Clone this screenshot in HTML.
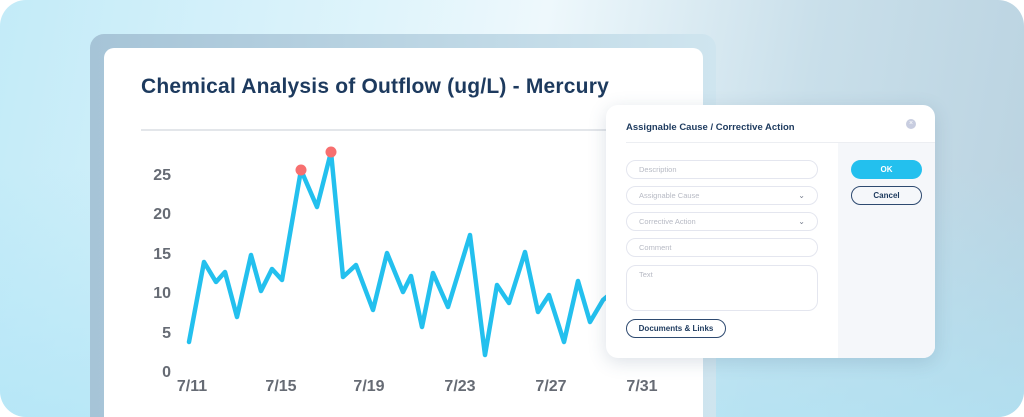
<!DOCTYPE html>
<html style="overflow:hidden;width:1024px;height:417px"><head><meta charset="utf-8"><style>
*{margin:0;padding:0;box-sizing:border-box}
body{width:1024px;height:417px;background:#fff;position:relative;overflow:hidden;font-family:"Liberation Sans",sans-serif}
.bg{position:absolute;left:0;top:0;width:1024px;height:417px;border-radius:26px;overflow:hidden;
background:linear-gradient(100deg,#c3ebf8 0%,#dff4fb 35%,#eef8fc 50%,#c9dfea 75%,#b9d2e0 100%)}
.bg2{position:absolute;left:0;top:0;width:100%;height:100%;background:linear-gradient(180deg,rgba(255,255,255,0) 40%,rgba(175,228,246,.7) 100%)}
.frame{position:absolute;left:90px;top:34px;width:626px;height:383px;border-radius:14px 14px 0 0;background:linear-gradient(90deg,#a6c4d7,#cfe5ef)}
.card{position:absolute;left:104px;top:48px;width:599px;height:369px;border-radius:10px 10px 0 0;background:#fff}
.title{position:absolute;left:141px;top:75px;font-size:21px;font-weight:bold;color:#1d3a5e;letter-spacing:.2px}
.hr{position:absolute;left:141px;top:129px;width:560px;height:2px;background:#e3e6ea}
.dlg{position:absolute;left:606px;top:105px;width:329px;height:253px;border-radius:12px;background:#fff;box-shadow:0 4px 18px rgba(60,90,120,.18);overflow:hidden}
.side{position:absolute;left:232px;top:37px;width:97px;height:216px;background:#f5f7fa}
.dh{position:absolute;left:20px;top:17px;font-size:9.5px;font-weight:bold;color:#1d3a5e}
.dline{position:absolute;left:20px;top:37px;width:309px;height:1px;background:#eceef2}
.x{position:absolute;left:300px;top:14px;width:10px;height:10px;border-radius:50%;background:#c8cde0;color:#fff;font-size:7px;text-align:center;line-height:10px}
.in{position:absolute;left:20px;width:192px;height:19px;border:1px solid #e4e6ef;border-radius:10px;font-size:7.5px;color:#b7bac4;padding-left:12px;line-height:17px}
.in .c{position:absolute;right:12px;top:0;font-size:8px;color:#7a8090}
.btn{position:absolute;height:19px;border-radius:10px;font-size:8px;font-weight:bold;text-align:center;line-height:17px}
</style></head><body>
<div class="bg"><div class="bg2"></div></div>
<div class="frame"></div>
<div class="card"></div>
<div class="title">Chemical Analysis of Outflow (ug/L) - Mercury</div>
<div class="hr"></div>
<svg style="position:absolute;left:0;top:0" width="1024" height="417">
<g font-family="Liberation Sans" font-size="16" font-weight="bold" fill="#666b74">
<text x="171" y="180" text-anchor="end">25</text>
<text x="171" y="219" text-anchor="end">20</text>
<text x="171" y="259" text-anchor="end">15</text>
<text x="171" y="298" text-anchor="end">10</text>
<text x="171" y="338" text-anchor="end">5</text>
<text x="171" y="377" text-anchor="end">0</text>
<g text-anchor="middle">
<text x="192" y="391">7/11</text><text x="281" y="391">7/15</text><text x="369" y="391">7/19</text>
<text x="460" y="391">7/23</text><text x="551" y="391">7/27</text><text x="642" y="391">7/31</text></g></g>
<polyline fill="none" stroke="#23c0ee" stroke-width="4.5" stroke-linejoin="round" stroke-linecap="round"
points="189,342 204,262 216,282 225,272 237,317 251,255 261,291 272,269 282,280 301,170 317,207 331,152 343,277 356,265 373,310 387,253 403,292 411,276 422,327 433,273 448,307 470,235 485,355 497,285 509,303 525,252 538,312 549,295 564,342 578,281 590,322 603,300 615,290"/>
<circle cx="301" cy="170" r="5.5" fill="#f76f6f"/><circle cx="331" cy="152" r="5.5" fill="#f76f6f"/>
</svg>
<div class="dlg">
<div class="side"></div>
<div class="dh">Assignable Cause / Corrective Action</div>
<div class="x">×</div>
<div class="dline"></div>
<div class="in" style="top:55px">Description</div>
<div class="in" style="top:81px">Assignable Cause<span class="c">⌄</span></div>
<div class="in" style="top:107px">Corrective Action<span class="c">⌄</span></div>
<div class="in" style="top:133px">Comment</div>
<div class="in" style="top:160px;height:46px;border-radius:10px">Text</div>
<div class="btn" style="left:20px;top:214px;width:100px;border:1.5px solid #2e4a70;color:#1d3a5e">Documents &amp; Links</div>
<div class="btn" style="left:245px;top:55px;width:71px;background:#23c0ee;color:#fff;line-height:19px">OK</div>
<div class="btn" style="left:245px;top:81px;width:71px;border:1.5px solid #2e4a70;color:#1d3a5e">Cancel</div>
</div>
</body></html>
